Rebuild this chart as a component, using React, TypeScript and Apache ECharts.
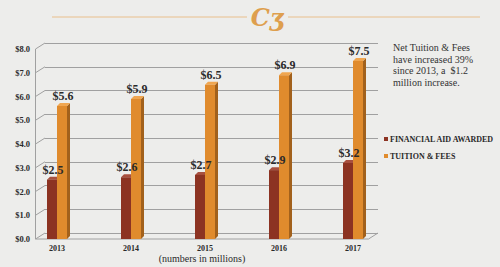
import React, { useEffect, useRef } from "react";
import * as echarts from "echarts";

const categories = ["2013", "2014", "2015", "2016", "2017"];
const aidValues = [2.5, 2.6, 2.7, 2.9, 3.2];
const tuitionValues = [5.6, 5.9, 6.5, 6.9, 7.5];
const yTicks = [0, 1, 2, 3, 4, 5, 6, 7, 8];
const seriesNames = ["FINANCIAL AID AWARDED", "TUITION & FEES"];
const noteText = "Net Tuition & Fees\nhave increased 39%\nsince 2013, a  $1.2\nmillion increase.";
const unitText = "(numbers in millions)";

const SERIF = '"Liberation Serif", "DejaVu Serif", serif';

function barRenderer(
  side: "left" | "right",
  front: string,
  topC: string,
  sideC: string,
  mode: "bar" | "label"
) {
  return (params: any, api: any) => {
    const idx = api.value(0);
    const v = api.value(1);
    const base = api.coord([idx, 0]);
    const top = api.coord([idx, v]);
    const bw = 10;
    const dx = 3;
    const dy = -3;
    const x0 = side === "left" ? base[0] - bw : base[0];
    const x1 = x0 + bw;
    if (mode === "label") {
      return {
        type: "text",
        x: (x0 + x1) / 2 + 1,
        y: top[1] - 4,
        style: {
          text: "$" + v.toFixed(1),
          fill: "#2a2a2a",
          font: "bold 12px " + SERIF,
          align: "center",
          verticalAlign: "bottom",
        },
      };
    }
    return {
      type: "group",
      children: [
        {
          type: "polygon",
          shape: { points: [[x1, top[1]], [x1 + dx, top[1] + dy], [x1 + dx, base[1] + dy], [x1, base[1]]] },
          style: { fill: sideC },
        },
        {
          type: "polygon",
          shape: { points: [[x0, top[1]], [x0 + dx, top[1] + dy], [x1 + dx, top[1] + dy], [x1, top[1]]] },
          style: { fill: topC },
        },
        {
          type: "rect",
          shape: { x: x0, y: top[1], width: bw, height: base[1] - top[1] },
          style: { fill: front },
        },
      ],
    };
  };
}

export default function App() {
  const ref = useRef<HTMLDivElement>(null);
  useEffect(() => {
    if (!ref.current) return;
    const chart = echarts.init(ref.current, null, { renderer: "svg" });
    const DX = -9.5;
    const DY = 6;
    const option: any = {
      animation: false,
      backgroundColor: "#EDEDEB",
      grid: [
        { left: 45, right: 122, top: 43, bottom: 34 },
        { left: 20, right: 110, top: 49, bottom: 28 },
      ],
      xAxis: [
        { type: "value", gridIndex: 0, min: 0, max: 1, show: false },
        {
          type: "category",
          gridIndex: 1,
          data: categories,
          axisLine: { show: false },
          axisTick: { show: false },
          axisLabel: {
            margin: 5,
            color: "#2a2a2a",
            fontFamily: SERIF,
            fontWeight: "bold",
            fontSize: 8,
          },
        },
      ],
      yAxis: [
        {
          type: "value",
          gridIndex: 0,
          min: 0,
          max: 8,
          interval: 1,
          axisLabel: { show: false },
          axisLine: { show: false },
          axisTick: { show: false },
          splitLine: { lineStyle: { color: "#a0a0a0", width: 1 } },
        },
        {
          type: "value",
          gridIndex: 1,
          min: 0,
          max: 8,
          interval: 1,
          axisLine: { show: false },
          axisTick: { show: false },
          splitLine: { show: false },
          axisLabel: {
            margin: -10,
            color: "#2a2a2a",
            fontFamily: SERIF,
            fontWeight: "bold",
            fontSize: 8.5,
            formatter: (v: number) => "$" + v.toFixed(1),
          },
        },
      ],
      legend: {
        orient: "vertical",
        left: 379,
        top: 130,
        itemWidth: 4,
        itemHeight: 4,
        itemGap: 9,
        icon: "rect",
        data: seriesNames,
        textStyle: {
          fontFamily: SERIF,
          fontWeight: "bold",
          fontSize: 8,
          color: "#2a2a2a",
          padding: [0, 0, 0, -3],
        },
      },
      series: [
        {
          type: "custom",
          name: "walls",
          xAxisIndex: 0,
          yAxisIndex: 0,
          silent: true,
          clip: false,
          z: 1,
          data: yTicks.map((v) => [0, v]),
          renderItem: (params: any, api: any) => {
            const v = api.value(1);
            const p = api.coord([0, v]);
            const children: any[] = [
              {
                type: "line",
                shape: { x1: p[0] + DX, y1: p[1] + DY, x2: p[0], y2: p[1] },
                style: { stroke: "#a0a0a0", lineWidth: 1 },
              },
            ];
            if (params.dataIndex === 0) {
              const topP = api.coord([0, 8]);
              const r = api.coord([1, 0]);
              children.push(
                {
                  type: "line",
                  shape: { x1: p[0] + DX, y1: p[1] + DY, x2: topP[0] + DX, y2: topP[1] + DY },
                  style: { stroke: "#a0a0a0", lineWidth: 1 },
                },
                {
                  type: "polyline",
                  shape: { points: [[p[0] + DX, p[1] + DY], [r[0] + DX, r[1] + DY], [r[0], r[1]]] },
                  style: { stroke: "#a0a0a0", lineWidth: 1, fill: "none" },
                }
              );
            }
            return { type: "group", children };
          },
        },
        {
          type: "custom",
          name: seriesNames[0],
          xAxisIndex: 1,
          yAxisIndex: 1,
          clip: false,
          z: 2,
          itemStyle: { color: "#8C3322" },
          encode: { x: 0, y: 1 },
          data: aidValues.map((v, i) => [i, v]),
          renderItem: barRenderer("left", "#8C3322", "#A8503F", "#6B2418", "bar"),
        },
        {
          type: "custom",
          name: seriesNames[1],
          xAxisIndex: 1,
          yAxisIndex: 1,
          clip: false,
          z: 3,
          itemStyle: { color: "#E08B2D" },
          encode: { x: 0, y: 1 },
          data: tuitionValues.map((v, i) => [i, v]),
          renderItem: barRenderer("right", "#E08B2D", "#F0A650", "#A2611C", "bar"),
        },
        {
          type: "custom",
          name: "aidLabels",
          xAxisIndex: 1,
          yAxisIndex: 1,
          clip: false,
          silent: true,
          z: 5,
          encode: { x: 0, y: 1 },
          data: aidValues.map((v, i) => [i, v]),
          renderItem: barRenderer("left", "", "", "", "label"),
        },
        {
          type: "custom",
          name: "tuitionLabels",
          xAxisIndex: 1,
          yAxisIndex: 1,
          clip: false,
          silent: true,
          z: 5,
          encode: { x: 0, y: 1 },
          data: tuitionValues.map((v, i) => [i, v]),
          renderItem: barRenderer("right", "", "", "", "label"),
        },
      ],
      graphic: [
        {
          type: "line",
          shape: { x1: 52, y1: 17, x2: 247, y2: 17 },
          style: { stroke: "#E9BF8C", lineWidth: 1 },
        },
        {
          type: "line",
          shape: { x1: 288, y1: 17, x2: 480, y2: 17 },
          style: { stroke: "#E9BF8C", lineWidth: 1 },
        },
        {
          type: "text",
          x: 267,
          y: 17,
          style: {
            text: "Cʒ",
            fill: "#DE9F4E",
            font: "bold italic 24px \"DejaVu Serif\", serif",
            align: "center",
            verticalAlign: "middle",
          },
        },
        {
          type: "text",
          x: 393,
          y: 42,
          style: {
            text: noteText,
            fill: "#333333",
            font: "10px " + SERIF,
            lineHeight: 11.5,
            align: "left",
            verticalAlign: "top",
          },
        },
        {
          type: "text",
          x: 202,
          y: 258,
          style: {
            text: unitText,
            fill: "#2a2a2a",
            font: "10px " + SERIF,
            align: "center",
            verticalAlign: "middle",
          },
        },
      ],
    };
    chart.setOption(option);
    return () => chart.dispose();
  }, []);
  return (
    <div
      ref={ref}
      style={{ position: "absolute", left: 0, top: 0, width: 500, height: 267 }}
    />
  );
}
